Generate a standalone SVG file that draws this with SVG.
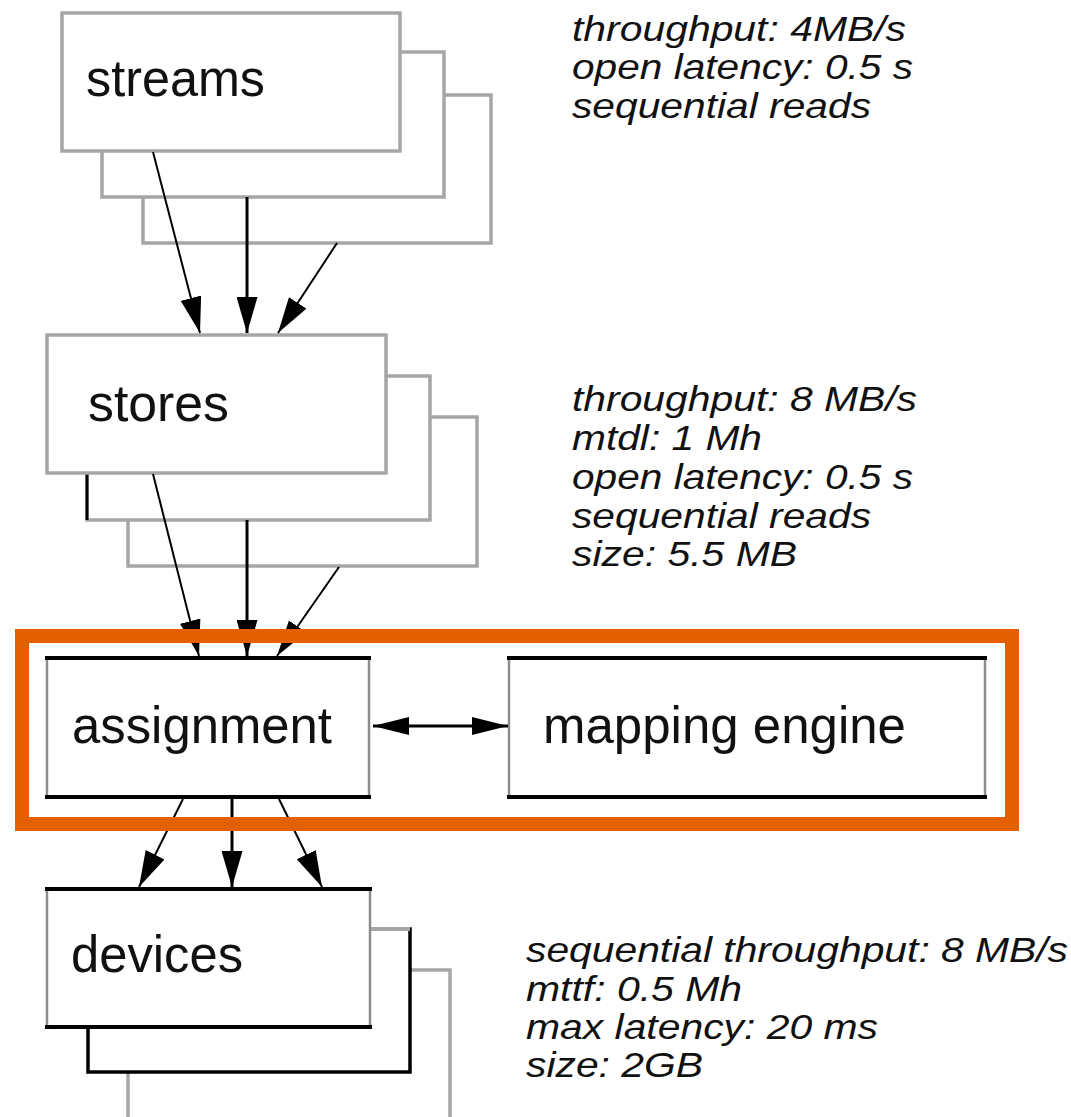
<svg xmlns="http://www.w3.org/2000/svg" width="1071" height="1117" viewBox="0 0 1071 1117">
<style>
  .bg{fill:#fff}
  .box{fill:#fff;stroke:#a6a6a6;stroke-width:3.5}
  .edge-k{stroke:#000;stroke-width:4;fill:none}
  .edge-g{stroke:#8c8c8c;stroke-width:2.5;fill:none}
  .lbl{font-family:"Liberation Sans",Arial,sans-serif;font-size:52px;fill:#111}
  .note{font-family:"Liberation Sans",Arial,sans-serif;font-size:35px;font-style:italic;fill:#111}
  .conn{stroke:#000;fill:none}
  .hl{fill:none;stroke:#e35f00;stroke-width:14}
</style>
<defs>
  <marker id="ah" viewBox="0 0 36 21" refX="36" refY="10.5" markerWidth="36" markerHeight="21" markerUnits="userSpaceOnUse" orient="auto">
    <path d="M0,0 L36,10.5 L0,21 Z" fill="#000"/>
  </marker>
  <marker id="ahh" viewBox="0 0 36 18" refX="36" refY="9" markerWidth="36" markerHeight="18" markerUnits="userSpaceOnUse" orient="auto-start-reverse">
    <path d="M0,0 L36,9 L0,18 Z" fill="#000"/>
  </marker>
</defs>
<rect class="bg" x="0" y="0" width="1071" height="1117"/>

<g id="streams">
  <rect class="box" x="143" y="95" width="348" height="148"/>
  <rect class="box" x="102" y="52" width="342" height="145"/>
  <rect class="box" x="62" y="13" width="338" height="138"/>
  <text class="lbl" x="86" y="96" textLength="179" lengthAdjust="spacingAndGlyphs">streams</text>
</g>

<g id="stores">
  <rect class="box" x="128" y="417" width="349" height="149"/>
  <rect class="box" x="87" y="376" width="343" height="144"/>
  <line x1="87" y1="473" x2="87" y2="520" stroke="#000" stroke-width="3"/>
  <rect class="box" x="47" y="335" width="339" height="138"/>
  <text class="lbl" x="88" y="421" textLength="141" lengthAdjust="spacingAndGlyphs" fill="#000">stores</text>
</g>

<g id="assignment">
  <rect x="47" y="658" width="322" height="139" fill="#fff"/>
  <line class="edge-g" x1="47" y1="658" x2="47" y2="797"/>
  <line class="edge-g" x1="369" y1="658" x2="369" y2="797"/>
  <line class="edge-k" x1="45" y1="658" x2="371" y2="658"/>
  <line class="edge-k" x1="45" y1="797" x2="371" y2="797"/>
  <text class="lbl" x="72" y="743" textLength="260" lengthAdjust="spacingAndGlyphs">assignment</text>
</g>

<g id="mapping-engine">
  <rect x="509" y="658" width="476" height="139" fill="#fff"/>
  <line class="edge-g" x1="509" y1="658" x2="509" y2="797" stroke="#555"/>
  <line class="edge-g" x1="985" y1="658" x2="985" y2="797"/>
  <line class="edge-k" x1="507" y1="658" x2="987" y2="658"/>
  <line class="edge-k" x1="507" y1="797" x2="987" y2="797"/>
  <text class="lbl" x="543" y="743" textLength="363" lengthAdjust="spacingAndGlyphs">mapping engine</text>
</g>

<g id="devices">
  <rect class="box" x="128" y="970" width="322" height="200"/>
  <rect x="88" y="929" width="322" height="143" fill="#fff" stroke="#000" stroke-width="3.5"/>
  <line x1="370" y1="929" x2="410" y2="929" stroke="#a6a6a6" stroke-width="4"/>
  <rect x="47" y="889" width="323" height="138" fill="#fff"/>
  <line class="edge-g" x1="47" y1="889" x2="47" y2="1027"/>
  <line class="edge-g" x1="370" y1="889" x2="370" y2="1027"/>
  <line class="edge-k" x1="45" y1="889" x2="372" y2="889"/>
  <line class="edge-k" x1="45" y1="1027" x2="372" y2="1027"/>
  <text class="lbl" x="71" y="972" textLength="172" lengthAdjust="spacingAndGlyphs">devices</text>
</g>

<g id="notes">
  <text class="note" x="572" y="41" textLength="334" lengthAdjust="spacingAndGlyphs">throughput: 4MB/s</text>
  <text class="note" x="572" y="79" textLength="341" lengthAdjust="spacingAndGlyphs">open latency: 0.5 s</text>
  <text class="note" x="572" y="118" textLength="299" lengthAdjust="spacingAndGlyphs">sequential reads</text>

  <text class="note" x="572" y="411" textLength="345" lengthAdjust="spacingAndGlyphs">throughput: 8 MB/s</text>
  <text class="note" x="572" y="450" textLength="190" lengthAdjust="spacingAndGlyphs">mtdl: 1 Mh</text>
  <text class="note" x="572" y="489" textLength="341" lengthAdjust="spacingAndGlyphs">open latency: 0.5 s</text>
  <text class="note" x="572" y="528" textLength="299" lengthAdjust="spacingAndGlyphs">sequential reads</text>
  <text class="note" x="572" y="566" textLength="225" lengthAdjust="spacingAndGlyphs">size: 5.5 MB</text>

  <text class="note" x="526" y="962" textLength="542" lengthAdjust="spacingAndGlyphs">sequential throughput: 8 MB/s</text>
  <text class="note" x="526" y="1001" textLength="216" lengthAdjust="spacingAndGlyphs">mttf: 0.5 Mh</text>
  <text class="note" x="526" y="1039" textLength="352" lengthAdjust="spacingAndGlyphs">max latency: 20 ms</text>
  <text class="note" x="526" y="1077" textLength="177" lengthAdjust="spacingAndGlyphs">size: 2GB</text>
</g>

<g id="connectors">
  <line class="conn" stroke-width="2" x1="153" y1="152" x2="200" y2="333" marker-end="url(#ah)"/>
  <line class="conn" stroke-width="3" x1="247" y1="197" x2="247" y2="333" marker-end="url(#ah)"/>
  <line class="conn" stroke-width="2" x1="337" y1="243" x2="278" y2="333" marker-end="url(#ah)"/>

  <line class="conn" stroke-width="2" x1="153" y1="474" x2="199" y2="656" marker-end="url(#ah)"/>
  <line class="conn" stroke-width="3" x1="247" y1="520" x2="247" y2="656" marker-end="url(#ah)"/>
  <line class="conn" stroke-width="2" x1="339" y1="567" x2="277" y2="656" marker-end="url(#ah)"/>

  <line class="conn" stroke-width="2" x1="183" y1="799" x2="139" y2="887" marker-end="url(#ah)"/>
  <line class="conn" stroke-width="3" x1="232" y1="799" x2="232" y2="887" marker-end="url(#ah)"/>
  <line class="conn" stroke-width="2" x1="279" y1="799" x2="322" y2="887" marker-end="url(#ah)"/>

  <line class="conn" stroke-width="3" x1="373" y1="726" x2="508" y2="726" marker-start="url(#ahh)" marker-end="url(#ahh)"/>
</g>

<g id="highlight">
  <rect class="hl" x="22" y="636" width="990" height="188"/>
</g>
</svg>
